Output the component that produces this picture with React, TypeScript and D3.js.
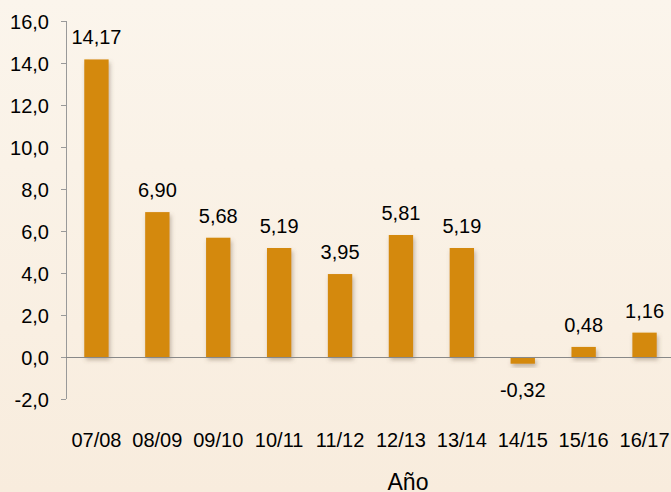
import React from "react";
import * as d3 from "d3";

const categories = ["07/08", "08/09", "09/10", "10/11", "11/12", "12/13", "13/14", "14/15", "15/16", "16/17"];
const values = [14.17, 6.9, 5.68, 5.19, 3.95, 5.81, 5.19, -0.32, 0.48, 1.16];
const yTicks = [-2, 0, 2, 4, 6, 8, 10, 12, 14, 16];

const W = 671, H = 492;
const fmt = (v: number, d: number) => v.toFixed(d).replace(".", ",");

export default function App() {
  const x = d3.scaleBand<string>().domain(categories).range([66, 675]).paddingInner(0.6).paddingOuter(0.3);
  const y = d3.scaleLinear().domain([-2, 16]).range([399, 21]);
  const font = "Liberation Sans, Arial, sans-serif";
  return (
    <svg width={W} height={H} style={{ position: "absolute", left: 0, top: 0 }}>
      <defs>
        <linearGradient id="bg" x1="0" y1="0" x2="0" y2="1">
          <stop offset="0" stopColor="#FBF5EC" />
          <stop offset="1" stopColor="#F8ECDD" />
        </linearGradient>
        <filter id="sh" x="-50%" y="-50%" width="200%" height="200%">
          <feDropShadow dx="1.5" dy="3" stdDeviation="2.2" floodColor="#6b5a45" floodOpacity="0.4" />
        </filter>
      </defs>
      <rect x={0} y={0} width={W} height={H} fill="url(#bg)" />
      <line x1={66.5} x2={66.5} y1={y(16)} y2={y(-2)} stroke="#999" strokeWidth={1} />
      {yTicks.map((t) => (
        <g key={t}>
          <line x1={61} x2={66} y1={Math.round(y(t)) + 0.5} y2={Math.round(y(t)) + 0.5} stroke="#999" />
          <text x={49} y={y(t) + 8} textAnchor="end" fontFamily={font} fontSize={20} fill="#000">
            {fmt(t, 1)}
          </text>
        </g>
      ))}
      {values.map((v, i) => {
        const c = categories[i];
        const x0 = x(c)!;
        const top = y(Math.max(0, v));
        const h = Math.abs(y(v) - y(0));
        return (
          <rect key={c} x={x0} y={top} width={x.bandwidth()} height={h} fill="#D4890B" filter="url(#sh)" />
        );
      })}
      <line x1={66} x2={W} y1={Math.round(y(0)) + 0.5} y2={Math.round(y(0)) + 0.5} stroke="#888" strokeWidth={1} />
      {values.map((v, i) => {
        const c = categories[i];
        const cx = x(c)! + x.bandwidth() / 2;
        const ly = v >= 0 ? y(v) - 15 : y(v) + 33;
        return (
          <text key={c} x={cx} y={ly} textAnchor="middle" fontFamily={font} fontSize={20} fill="#000">
            {fmt(v, 2)}
          </text>
        );
      })}
      {categories.map((c) => (
        <text key={c} x={x(c)! + x.bandwidth() / 2} y={447} textAnchor="middle" fontFamily={font} fontSize={20} fill="#000">
          {c}
        </text>
      ))}
      <text x={408} y={490} textAnchor="middle" fontFamily={font} fontSize={23} fill="#000">
        Año
      </text>
    </svg>
  );
}
